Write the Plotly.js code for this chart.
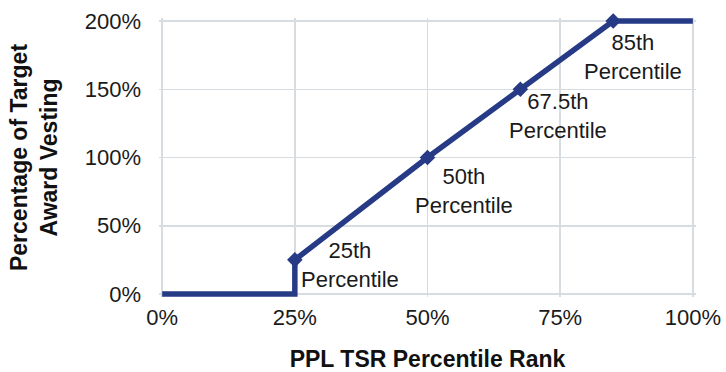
<!DOCTYPE html>
<html>
<head>
<meta charset="utf-8">
<script src="https://cdn.plot.ly/plotly-3.0.1.min.js"></script>
<style>html,body{margin:0;padding:0;background:#fff;}#chart{width:726px;height:372px;}</style>
</head>
<body>
<div id="chart"></div>
<script>
// Vesting curve (x = PPL TSR percentile rank, y = % of target award vesting)
const rankPct = [0, 25, 25, 50, 67.5, 85, 100];
const vestingPct = [0, 0, 25, 100, 150, 200, 200];

// Milestone points with markers and labels
const milestoneRank = [25, 50, 67.5, 85];
const milestoneVesting = [25, 100, 150, 200];
const milestoneLabels = ["25th<br>Percentile", "50th<br>Percentile", "67.5th<br>Percentile", "85th<br>Percentile"];

// Tick values / labels
const xTickVals = [0, 25, 50, 75, 100];
const xTickText = ["0%", "25%", "50%", "75%", "100%"];
const yTickVals = [0, 50, 100, 150, 200];
const yTickText = ["0%", "50%", "100%", "150%", "200%"];

const navy = "#263a86";
const grid = "#d7dce1";
const font = "Liberation Sans, Arial, Helvetica, sans-serif";

// label offsets (pixels) relative to each milestone marker
const labelShiftX = [55, 36, 38, 20];
const labelShiftY = [-5, -33, -27, -36];

const traces = [
  {x: rankPct, y: vestingPct, type: "scatter", mode: "lines",
   line: {color: navy, width: 5.5}, cliponaxis: false, hoverinfo: "skip"},
  {x: milestoneRank, y: milestoneVesting, type: "scatter", mode: "markers",
   marker: {symbol: "diamond", size: 12, color: navy}, cliponaxis: false, hoverinfo: "skip"}
];

const annotations = milestoneRank.map((r, i) => ({
  x: r, y: milestoneVesting[i], xref: "x", yref: "y",
  text: milestoneLabels[i], showarrow: false,
  xanchor: "center", yanchor: "middle", align: "center",
  xshift: labelShiftX[i], yshift: labelShiftY[i],
  font: {family: font, size: 22, color: "#1a1a1a"}
}));

const layout = {
  width: 726, height: 372,
  margin: {l: 159, r: 30, t: 18, b: 75},
  paper_bgcolor: "#fff", plot_bgcolor: "#fff",
  showlegend: false,
  font: {family: font, size: 22, color: "#1a1a1a"},
  xaxis: {
    range: [-0.6, 100.6], tickvals: xTickVals, ticktext: xTickText,
    showgrid: true, gridcolor: grid, gridwidth: 1.5,
    showline: false, zeroline: false, ticks: "", ticklabelstandoff: 5,
    tickfont: {family: font, size: 22, color: "#1a1a1a"},
    title: {text: "PPL TSR Percentile Rank", standoff: 27,
            font: {family: font, size: 23, color: "#111", weight: "bold"}},
    fixedrange: true
  },
  yaxis: {
    range: [-2.2, 202.2], tickvals: yTickVals, ticktext: yTickText,
    showgrid: true, gridcolor: grid, gridwidth: 1.5,
    showline: false, zeroline: false, ticks: "", ticklabelstandoff: 17,
    tickfont: {family: font, size: 22, color: "#1a1a1a"},
    title: {text: "Percentage of Target<br>Award Vesting", standoff: 20,
            font: {family: font, size: 23, color: "#111", weight: "bold"}},
    fixedrange: true
  },
  annotations: annotations
};

Plotly.newPlot("chart", traces, layout, {displayModeBar: false, staticPlot: true});
</script>
</body>
</html>
